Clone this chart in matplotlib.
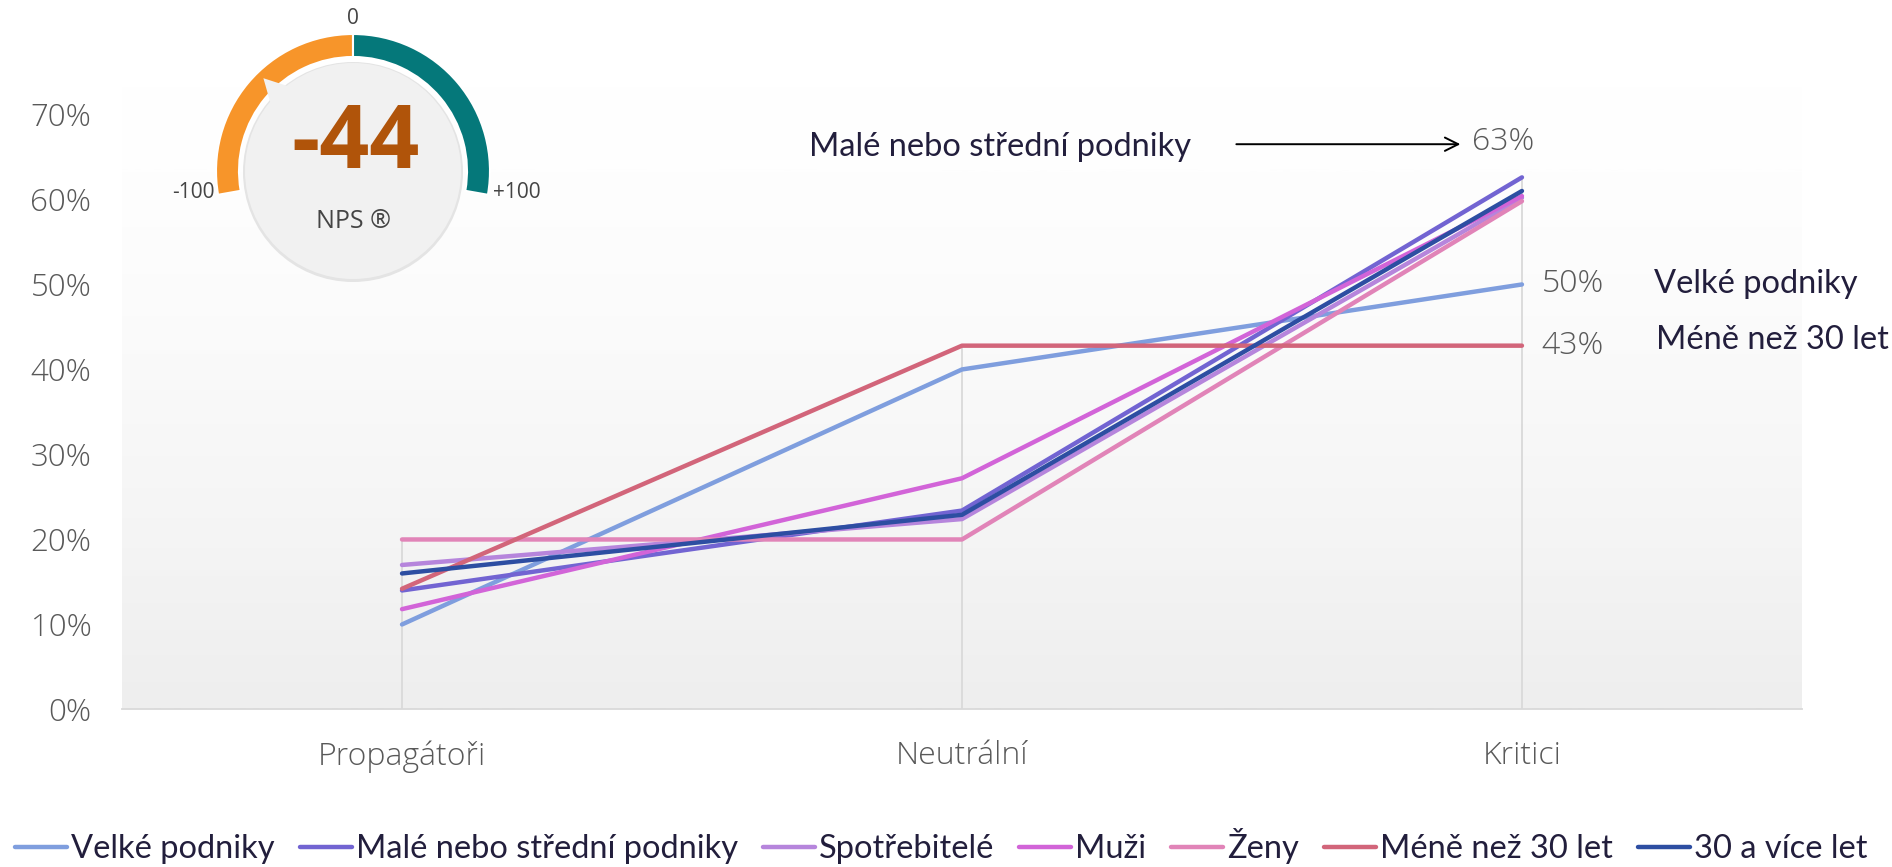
import numpy as np
import matplotlib.pyplot as plt
from matplotlib.patches import Wedge, Circle, Polygon

# Data
categories = ['Propagátoři', 'Neutrální', 'Kritici']
series_names = ['Velké podniky', 'Malé nebo střední podniky', 'Spotřebitelé',
                'Muži', 'Ženy', 'Méně než 30 let', '30 a více let']
velke = [10, 40, 50]
male_stredni = [14, 23.4, 62.6]
spotrebitele = [17, 22.4, 60.2]
muzi = [11.8, 27.2, 60.4]
zeny = [20, 20, 59.8]
mene_30 = [14.2, 42.8, 42.8]
vice_30 = [16, 22.9, 61]
series_values = [velke, male_stredni, spotrebitele, muzi, zeny, mene_30, vice_30]
colors = ['#7f9ede', '#7264d2', '#b685dc', '#d264d8', '#e184b8', '#d2657a', '#2d4ea2']
nps_value = -44

plt.rcParams['font.family'] = ['Lato', 'DejaVu Sans']

fig = plt.figure(figsize=(18.92, 8.67), dpi=100)
ax = fig.add_axes([0.0645, 0.1817, 0.8879, 0.7353])

x = np.arange(len(categories))

# background gradient of the plot area
grad = np.linspace(0, 1, 256).reshape(-1, 1) ** 1.5
ax.imshow(grad, cmap=plt.matplotlib.colors.LinearSegmentedColormap.from_list('g', ['#ffffff', '#eeeeee']),
          extent=[0, 1, 0, 1], transform=ax.transAxes, aspect='auto', origin='upper', zorder=0)

# drop lines from the highest value at each category
tops = np.max(np.array(series_values), axis=0) / 100
ax.vlines(x, 0, tops, color='#d9d9d9', lw=1.3, zorder=1)

for name, vals, c in zip(series_names, series_values, colors):
    ax.plot(x, np.array(vals) / 100, color=c, lw=3.2, label=name, zorder=3,
            solid_capstyle='round')

tick_font = dict(fontfamily='Open Sans', fontweight='light', color='#595959')
ax.set_xlim(-0.5, 2.5)
ax.set_ylim(0, 0.75)
ax.set_yticks(np.arange(0, 0.71, 0.1))
ax.set_yticklabels([f'{int(round(v * 100))}%' for v in np.arange(0, 0.71, 0.1)],
                   fontsize=22.5, **tick_font)
ax.set_xticks(x)
ax.set_xticklabels(categories, fontsize=23, **tick_font)
ax.tick_params(length=0, axis='y', pad=22)
ax.tick_params(length=0, axis='x', pad=22)
for s in ['top', 'right', 'left']:
    ax.spines[s].set_visible(False)
ax.spines['bottom'].set_color('#d9d9d9')
ax.spines['bottom'].set_linewidth(1.3)

# value labels at "Kritici"
ax.text(1.91, 0.668, '63%', fontsize=23, va='center', ha='left', **tick_font)
ax.text(2.035, velke[2] / 100, f'{velke[2]}%', fontsize=23, va='center', ha='left', **tick_font)
ax.text(2.035, mene_30[2] / 100, '43%', fontsize=23, va='center', ha='left', **tick_font)
txt_col = '#221e3c'
ax.text(2.235, velke[2] / 100, 'Velké podniky', fontsize=23.5, color=txt_col, va='center', ha='left',
        clip_on=False)
ax.text(2.24, 0.435, 'Méně než 30 let', fontsize=23.5, color=txt_col, va='center', ha='left',
        clip_on=False)
ax.text(1.41, 0.662, 'Malé nebo střední podniky', fontsize=23.5, color=txt_col, va='center', ha='right')
ax.annotate('', xy=(1.895, 0.665), xytext=(1.485, 0.665),
            arrowprops=dict(arrowstyle='->', color='black', lw=1.4, mutation_scale=24))

fig.legend(loc='center', bbox_to_anchor=(0.4975, 0.024), ncol=7, frameon=False,
           fontsize=23.5, handlelength=1.6, handletextpad=0.13, columnspacing=0.75,
           labelcolor=txt_col)

# NPS gauge, drawn in figure pixel space
gx = fig.add_axes([0, 0, 1, 1], facecolor='none')
gx.set_xlim(0, 1892)
gx.set_ylim(0, 867)
gx.set_aspect('equal')
gx.axis('off')
cx, cy = 353, 696
r_out, r_in = 137, 114
gx.add_patch(Wedge((cx, cy), r_out, 90, 190, width=r_out - r_in, fc='#f7952a', ec='white', lw=1.5))
gx.add_patch(Wedge((cx, cy), r_out, -10, 90, width=r_out - r_in, fc='#05787a', ec='white', lw=1.5))
gx.add_patch(Circle((cx, cy - 1), 110, fc='#e4e4e4', ec='none'))
gx.add_patch(Circle((cx, cy), 108, fc='#f1f1f1', ec='none'))
ang = np.deg2rad(90 - nps_value)
tip = (cx + 129 * np.cos(ang), cy + 129 * np.sin(ang))
b1 = (cx + 106 * np.cos(ang + 0.12), cy + 106 * np.sin(ang + 0.12))
b2 = (cx + 106 * np.cos(ang - 0.12), cy + 106 * np.sin(ang - 0.12))
gx.add_patch(Polygon([tip, b1, b2], closed=True, fc='#f1f1f1', ec='none'))
gx.text(cx + 2, 722, f'{nps_value}', fontfamily='Open Sans', fontweight='bold', fontsize=63,
        color='#b0540a', ha='center', va='center')
gx.text(cx, 645, 'NPS ®', fontfamily='Open Sans', fontsize=18, color='#444444', ha='center', va='center')
gx.text(cx, 848, '0', fontfamily='Open Sans', fontsize=15, color='#444444', ha='center', va='center')
gx.text(193, 674, '-100', fontfamily='Open Sans', fontsize=15, color='#444444', ha='center', va='center')
gx.text(517, 674, '+100', fontfamily='Open Sans', fontsize=15, color='#444444', ha='center', va='center')

fig.savefig('out.png', dpi=100, facecolor='white')
